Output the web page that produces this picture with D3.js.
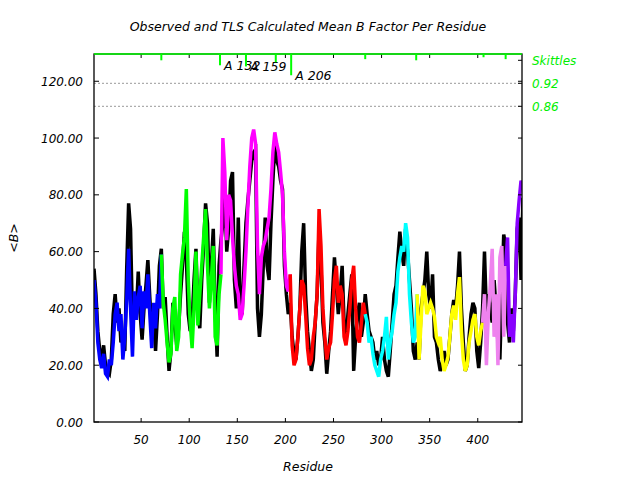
<!DOCTYPE html>
<html>
<head>
<meta charset="utf-8">
<script src="https://cdn.jsdelivr.net/npm/d3@7"></script>
<style>
body { margin: 0; background: #fff; }
text { font-family: "DejaVu Sans", sans-serif; font-style: italic; }
</style>
</head>
<body>
<div id="chart"></div>
<script>

// residues sampled every second residue
var residues = d3.range(1, 448, 2);

// observed mean B per residue (black)
var observedB = [
    54,45,32,25,22,27,20,18,17,22,38,45,35,40,28,30,25,54,77,68,35,45,38,53,38,29,40,48,57,44,32,36,25,38,55,61,
    40,44,30,18,25,42,35,27,33,45,55,67,58,38,32,35,50,61,38,33,50,62,77,70,42,55,68,40,23,55,64,
    70,82,60,68,85,88,50,40,72,40,38,55,70,78,85,92,95,96,40,30,38,55,72,55,50,70,85,98,92,90,85,82,55,45,38,42,
    30,24,22,30,40,60,70,45,32,25,18,22,35,45,68,55,35,28,17,25,32,45,58,48,38,45,55,35,28,38,45,52,18,30,38,42,30,35,45,
    38,32,30,28,22,25,20,22,30,22,18,16,25,35,45,48,58,67,60,55,68,60,50,40,25,22,28,
    22,40,45,50,60,45,40,52,30,28,22,18,20,25,20,22,30,38,43,40,48,60,40,28,18,20,30,38,42,40,25,19,28,40,
    60,38,45,40,35,50,40,28,22,45,66,62,35,28,40,32,45,68,72,50,79
];

// TLS calculated mean B per residue (coloured by TLS group)
var calcB = [
    50,42,28,22,19,24,17,16,22,20,28,38,42,32,38,22,30,43,61,40,23,46,36,44,48,33,46,40,52,38,26,42,33,45,40,59,
    42,36,28,21,24,40,44,25,30,52,59,65,82,50,35,26,40,60,34,45,55,65,75,55,40,50,62,30,27,45,52,
    100,88,64,80,78,65,55,48,45,36,38,48,60,76,90,100,103,98,62,45,58,62,64,68,72,82,95,102,98,95,88,80,60,48,46,52,
    27,20,22,30,40,50,48,38,26,20,22,30,35,45,75,62,40,30,22,26,28,38,50,55,42,48,45,30,27,32,40,50,55,40,30,28,35,42,38,
    35,28,30,24,20,18,16,22,25,30,37,22,28,32,38,42,53,58,62,60,70,65,45,35,28,30,45,
    22,35,48,46,38,40,42,40,37,30,28,30,22,18,20,23,30,38,41,36,45,51,32,22,18,20,28,32,36,38,30,27,32,35,
    45,20,38,48,61,30,45,20,58,62,30,55,
    65,30,38,28,45,70,78,85,82
];

// first residue of each TLS group
var groupStarts = [1, 73, 135, 207, 285, 339, 407, 431];
var groupColors = ["#0000ff", "#00ff00", "#ff00ff", "#ff0000", "#00ffff", "#ffff00", "#ee82ee", "#8800ff"];

var xTicks = [50, 100, 150, 200, 250, 300, 350, 400];
var yTicks = [0, 20, 40, 60, 80, 100, 120];

// skittles marks along the top
var skittleRes = [71, 132, 159, 190, 206, 283, 336, 406, 429];
var skittleVal = [0.980, 0.967, 0.964, 0.975, 0.941, 0.983, 0.980, 0.988, 0.983];
var skittleNamed = [132, 159, 206];
var skittleAxisVals = [0.98, 0.92, 0.86];
var skittleAxisLabels = ["Skittles", "0.92", "0.86"];
var skittleLines = [0.92, 0.86];

var width = 640, height = 480;
var margin = { top: 54, right: 118, bottom: 58, left: 94 };

var svg = d3.select("#chart").append("svg")
    .attr("width", width)
    .attr("height", height);

var x = d3.scaleLinear()
    .domain([1, 446])
    .range([margin.left, width - margin.right]);

var y = d3.scaleLinear()
    .domain([0, 129.6])
    .range([height - margin.bottom, margin.top]);

var ySk = d3.scaleLinear()
    .domain([0.86, 0.92])
    .range([106.3, 83.3]);

var x0 = margin.left, x1 = width - margin.right,
    y0 = margin.top, y1 = height - margin.bottom;

svg.append("clipPath").attr("id", "plotclip")
    .append("rect")
    .attr("x", x0).attr("y", y0)
    .attr("width", x1 - x0).attr("height", y1 - y0);

// dotted skittles reference lines
svg.selectAll(".skline")
    .data(skittleLines)
    .enter().append("line")
    .attr("class", "skline")
    .attr("x1", x0).attr("x2", x1)
    .attr("y1", function(d) { return ySk(d); })
    .attr("y2", function(d) { return ySk(d); })
    .style("stroke", "#999")
    .style("stroke-width", 1)
    .style("stroke-dasharray", "2,2");

var line = d3.line()
    .x(function(d) { return x(d[0]); })
    .y(function(d) { return y(d[1]); });

var plot = svg.append("g").attr("clip-path", "url(#plotclip)");

// observed
plot.append("path")
    .datum(residues.map(function(r, i) { return [r, observedB[i]]; }))
    .attr("d", line)
    .style("fill", "none")
    .style("stroke", "#000")
    .style("stroke-width", 3.5);

// calculated, one path per TLS group
groupStarts.forEach(function(s, g) {
    var e = g < groupStarts.length - 1 ? groupStarts[g + 1] : 1000;
    var pts = [];
    residues.forEach(function(r, i) {
        if (r >= s - 2 && r < e) pts.push([r, calcB[i]]);
    });
    if (g == 0) pts = pts.filter(function(p) { return p[0] >= s; });
    plot.append("path")
        .datum(pts)
        .attr("d", line)
        .style("fill", "none")
        .style("stroke", groupColors[g])
        .style("stroke-width", 3.5);
});

// frame
svg.append("rect")
    .attr("x", x0).attr("y", y0)
    .attr("width", x1 - x0).attr("height", y1 - y0)
    .style("fill", "none")
    .style("stroke", "#000")
    .style("stroke-width", 1.3);

// ticks, all pointing inward
xTicks.forEach(function(t) {
    svg.append("line").attr("x1", x(t)).attr("x2", x(t)).attr("y1", y1).attr("y2", y1 - 4)
        .style("stroke", "#000");
    svg.append("line").attr("x1", x(t)).attr("x2", x(t)).attr("y1", y0).attr("y2", y0 + 4)
        .style("stroke", "#000");
    svg.append("text").attr("x", x(t)).attr("y", y1 + 22)
        .attr("text-anchor", "middle").style("font-size", "12px").style("fill", "#000")
        .text(t);
});

yTicks.forEach(function(t) {
    svg.append("line").attr("x1", x0).attr("x2", x0 + 5).attr("y1", y(t)).attr("y2", y(t))
        .style("stroke", "#000");
    svg.append("line").attr("x1", x1).attr("x2", x1 - 4).attr("y1", y(t)).attr("y2", y(t))
        .style("stroke", "#000");
    svg.append("text").attr("x", x0 - 11).attr("y", y(t) + 4.5)
        .attr("text-anchor", "end").style("font-size", "12px").style("fill", "#000")
        .text(d3.format(".2f")(t));
});

// skittles axis on the right
skittleAxisVals.forEach(function(v, i) {
    svg.append("line").attr("x1", x1).attr("x2", x1 - 4).attr("y1", ySk(v)).attr("y2", ySk(v))
        .style("stroke", "#000");
    svg.append("text").attr("x", x1 + 10).attr("y", ySk(v) + 4.5)
        .style("font-size", "12px").style("fill", "#00ee00")
        .text(skittleAxisLabels[i]);
});

// green top edge and skittles marks
svg.append("line").attr("x1", x0).attr("x2", x1).attr("y1", y0).attr("y2", y0)
    .style("stroke", "#00ff00").style("stroke-width", 1.5);

skittleRes.forEach(function(r, i) {
    svg.append("line")
        .attr("x1", x(r)).attr("x2", x(r))
        .attr("y1", y0).attr("y2", ySk(skittleVal[i]))
        .style("stroke", "#00ff00").style("stroke-width", 2);
    if (skittleNamed.indexOf(r) >= 0) {
        svg.append("text")
            .attr("x", x(r) + 4).attr("y", ySk(skittleVal[i]) + 4.5)
            .style("font-size", "12.5px").style("fill", "#000")
            .text("A " + r);
    }
});

// titles
svg.append("text").attr("x", (x0 + x1) / 2).attr("y", 31)
    .attr("text-anchor", "middle").style("font-size", "12.5px")
    .text("Observed and TLS Calculated Mean B Factor Per Residue");

svg.append("text").attr("x", (x0 + x1) / 2).attr("y", 471)
    .attr("text-anchor", "middle").style("font-size", "12.5px")
    .text("Residue");

svg.append("text")
    .attr("transform", "translate(18," + ((y0 + y1) / 2) + ") rotate(-90)")
    .attr("text-anchor", "middle").style("font-size", "12.5px")
    .text("<B>");

</script>
</body>
</html>
